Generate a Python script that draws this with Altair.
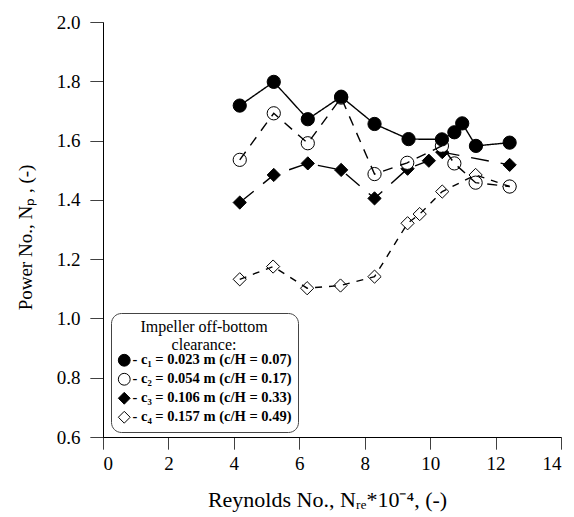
import altair as alt
import pandas as pd

# ---- data ----
series_labels = [
    "- c\u2081 = 0.023 m (c/H = 0.07)",
    "- c\u2082 = 0.054 m (c/H = 0.17)",
    "- c\u2083 = 0.106 m (c/H = 0.33)",
    "- c\u2084 = 0.157 m (c/H = 0.49)",
]
dash_keys = ["d1", "d2", "d3", "d4"]

c1_x = [4.18, 5.22, 6.26, 7.28, 8.30, 9.34, 10.36, 10.74, 10.98, 11.40, 12.43]
c1_y = [1.718, 1.798, 1.672, 1.748, 1.656, 1.605, 1.604, 1.628, 1.658, 1.582, 1.593]

c2_x = [4.18, 5.22, 6.26, 7.28, 8.30, 9.30, 10.36, 10.74, 11.39, 12.43]
c2_y = [1.535, 1.692, 1.591, 1.745, 1.487, 1.525, 1.582, 1.523, 1.458, 1.445]

c3_x = [4.18, 5.22, 6.26, 7.28, 8.30, 9.31, 9.96, 10.37, 12.43]
c3_y = [1.391, 1.484, 1.523, 1.501, 1.405, 1.505, 1.532, 1.561, 1.518]

c4_x = [4.18, 5.20, 6.24, 7.26, 8.30, 9.31, 9.68, 10.37, 11.39, 12.43]
c4_y = [1.132, 1.175, 1.102, 1.111, 1.141, 1.321, 1.352, 1.428, 1.484, 1.445]

x_ticks = list(range(0, 15))
y_ticks = [round(0.6 + 0.1 * i, 1) for i in range(15)]

rows = []
for k, (xs, ys) in enumerate([(c4_x, c4_y), (c3_x, c3_y), (c2_x, c2_y), (c1_x, c1_y)]):
    lab = series_labels[3 - k]
    dk = dash_keys[3 - k]
    for i, (xv, yv) in enumerate(zip(xs, ys)):
        rows.append({"series": lab, "dash": dk, "x": xv, "y": yv, "order": i, "layer": k})
df = pd.DataFrame(rows)

FONT = "Liberation Serif"

x_enc = alt.X(
    "x:Q",
    scale=alt.Scale(domain=[0, 14], nice=False, zero=False),
    axis=alt.Axis(
        title="Reynolds No., N\u1d63\u2091*10\u207b\u2074, (-)",
        values=x_ticks,
        tickSize=12,
        tickDash={"condition": {"test": "datum.value % 2 === 0", "value": [1, 0]}, "value": [7, 40]},
        labelExpr="datum.value % 2 === 0 ? datum.label : ''",
        labelFontSize=19,
        labelPadding=5,
        titleFontSize=22,
        titlePadding=16,
        titleX=224,
    ),
)
y_enc = alt.Y(
    "y:Q",
    scale=alt.Scale(domain=[0.6, 2.0], nice=False, zero=False),
    axis=alt.Axis(
        title="Power No., N\u209a , (-)",
        values=y_ticks,
        format=".1f",
        tickSize=13,
        tickDash={"condition": {"test": "round(datum.value*10) % 2 === 0", "value": [1, 0]}, "value": [8, 40]},
        labelExpr="round(datum.value*10) % 2 === 0 ? datum.label : ''",
        labelFontSize=19,
        labelPadding=10,
        titleFontSize=19,
        titlePadding=21,
        titleY=215,
    ),
)

lines = alt.Chart(df).mark_line(color="black", strokeWidth=1.4).encode(
    x=x_enc,
    y=y_enc,
    detail="series:N",
    order="order:Q",
    strokeDash=alt.StrokeDash(
        "dash:N",
        scale=alt.Scale(domain=dash_keys, range=[[1, 0], [10, 8], [18, 12], [7, 7]]),
        legend=None,
    ),
)

legend_title = ["Impeller off-bottom", "clearance:"]
legend_def = alt.Legend(
    title=legend_title,
    symbolStrokeWidth=1,
    symbolSize=140,
)
points = alt.Chart(df).mark_point(
    strokeWidth=1, opacity=1, fillOpacity=1, strokeOpacity=1, size=175
).encode(
    x=alt.X("x:Q"),
    y=alt.Y("y:Q"),
    shape=alt.Shape(
        "series:N",
        scale=alt.Scale(domain=series_labels, range=["circle", "circle", "diamond", "diamond"]),
        legend=legend_def,
    ),
    fill=alt.Fill(
        "series:N",
        scale=alt.Scale(domain=series_labels, range=["black", "white", "black", "white"]),
        legend=legend_def,
    ),
    stroke=alt.Stroke(
        "series:N",
        scale=alt.Scale(domain=series_labels, range=["black", "black", "black", "black"]),
        legend=legend_def,
    ),
    order=alt.Order("layer:Q"),
)

chart = (
    alt.layer(points, lines)
    .properties(
        width=458,
        height=415,
        autosize=alt.AutoSizeParams(type="none"),
        padding={"left": 103, "top": 22, "right": 13, "bottom": 80},
    )
    .configure_view(stroke=None)
    .configure_axis(
        grid=False,
        domainColor="black",
        domainWidth=1,
        tickColor="black",
        tickWidth=1,
        labelFont=FONT,
        titleFont=FONT,
        labelColor="black",
        titleColor="black",
        titleFontWeight="normal",
    )
    .configure_legend(
        orient="none",
        legendX=8,
        legendY=291,
        strokeColor="#444",
        cornerRadius=10,
        fillColor="white",
        padding=6,
        titleFont=FONT,
        titleFontSize=16,
        titleFontWeight="normal",
        titleColor="black",
        titleAnchor="middle",
        titleAlign="center",
        titleLineHeight=18,
        titlePadding=0,
        labelFont=FONT,
        labelFontSize=14.5,
        labelFontWeight="bold",
        labelColor="black",
        labelLimit=300,
        rowPadding=2,
        symbolOffset=0,
        labelOffset=1,
    )
)

chart.save("out.html", embed_options={"renderer": "svg", "actions": False})
